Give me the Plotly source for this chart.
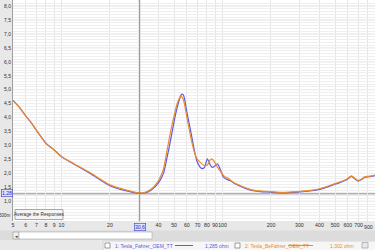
import plotly.graph_objects as go

# ---------------- data ----------------
freq_hz = [5, 5.5, 6, 6.5, 7, 8, 9, 10, 12, 15, 20, 25, 30.6, 33, 36, 39, 41, 43, 45,
           48, 50, 52, 54, 55, 56, 57, 58, 60, 62, 64.4, 67, 69, 72, 74, 77, 80.5, 83,
           86, 89, 93, 97, 101, 105, 109, 113, 117, 125, 134, 148, 162, 180, 197, 238,
           295, 350, 394, 440, 487, 540, 589, 632, 665, 696, 730, 765, 820, 885]

fahrer_ohm = [4.62, 4.36, 4.06, 3.81, 3.54, 3.08, 2.84, 2.60, 2.33, 2.01, 1.56, 1.38, 1.285, 1.30, 1.40, 1.58, 1.76, 2.00, 2.50,
              3.30, 3.85, 4.30, 4.65, 4.78, 4.84, 4.82, 4.70, 4.21, 3.80, 3.32, 2.80, 2.48, 2.25, 2.18, 2.20, 2.52, 2.36,
              2.22, 2.25, 2.34, 2.14, 1.88, 1.80, 1.76, 1.72, 1.66, 1.58, 1.50, 1.41, 1.36, 1.34, 1.33, 1.30,
              1.33, 1.37, 1.42, 1.50, 1.59, 1.68, 1.77, 1.89, 1.80, 1.72, 1.78, 1.86, 1.88, 1.92]

befahrer_ohm = [4.62, 4.36, 4.06, 3.81, 3.54, 3.08, 2.84, 2.60, 2.34, 2.03, 1.59, 1.41, 1.302, 1.32, 1.43, 1.64, 1.86, 2.15, 2.75,
                3.60, 4.05, 4.45, 4.70, 4.76, 4.74, 4.66, 4.50, 4.03, 3.60, 3.14, 2.75, 2.55, 2.42, 2.36, 2.28, 2.30, 2.45,
                2.52, 2.42, 2.22, 2.08, 1.94, 1.86, 1.82, 1.74, 1.67, 1.60, 1.52, 1.43, 1.38, 1.36, 1.35, 1.32,
                1.35, 1.39, 1.44, 1.52, 1.61, 1.70, 1.79, 1.91, 1.82, 1.74, 1.80, 1.88, 1.90, 1.94]

series_names = ["1: Tesla_Fahrer_OEM_TT", "2: Tesla_BeFahrer_OEM_TT"]
cursor_values = ["1,285 ohm", "1,302 ohm"]
cursor_freq = 30.6
cursor_ohm = 1.28

x_tick_vals = [5, 6, 7, 8, 9, 10, 20, 30, 40, 50, 60, 70, 80, 90, 100,
               200, 300, 400, 500, 600, 700, 800, 900]
x_tick_text = ["5", "6", "7", "8", "9", "10", "20", "", "40", "50", "60", "70", "80", "90", "100",
               "200", "300", "400", "500", "600", "700", "", ""]
y_label_vals = [1.0, 1.5, 2.0, 2.5, 3.0, 3.5, 4.0, 4.5, 5.0, 5.5, 6.0, 6.5, 7.0, 7.5, 8.0]
y_label_text = ["1,0", "1,5", "2,0", "2,5", "3,0", "3,5", "4,0", "4,5", "5,0",
                "5,5", "6,0", "6,5", "7,0", "7,5", "8,0"]
y_low_label = (0.5, "500m")
x_edge_label = "900"

BLUE = "#5c5ce0"
ORANGE = "#ec8a2c"

# ---------------- layout geometry ----------------
W, H = 375, 250
ML, MR, MT, MB = 13, 0, 0, 29
PW, PH = W - ML - MR, H - MT - MB


def px(xp):
    return (xp - ML) / PW


def py(yp):
    return (H - MB - yp) / PH


# fine y grid (every 0.1)
y_grid = [round(0.3 + 0.1 * i, 1) for i in range(80)]
y_tick_text = []
for v in y_grid:
    if v in y_label_vals:
        y_tick_text.append(y_label_text[y_label_vals.index(v)])
    else:
        y_tick_text.append("")

fig = go.Figure()
fig.add_trace(go.Scatter(x=freq_hz, y=fahrer_ohm, mode="lines", name=series_names[0],
                         line=dict(color=BLUE, width=1.2, shape="spline", smoothing=0.6)))
fig.add_trace(go.Scatter(x=freq_hz, y=befahrer_ohm, mode="lines", name=series_names[1],
                         line=dict(color=ORANGE, width=1.2, shape="spline", smoothing=0.6)))

shapes = []
# darker decade lines
for f in [10, 100]:
    shapes.append(dict(type="line", xref="x", yref="paper", x0=f, x1=f, y0=0, y1=1,
                       line=dict(color="#c4c4c4", width=1), layer="below"))
# darker half-ohm lines
for v in [y_low_label[0]] + y_label_vals:
    shapes.append(dict(type="line", xref="paper", yref="y", x0=0, x1=1, y0=v, y1=v,
                       line=dict(color="#dedede", width=1), layer="below"))
# cursors
shapes.append(dict(type="line", xref="x", yref="paper", x0=cursor_freq, x1=cursor_freq, y0=0, y1=1,
                   line=dict(color="#8a8a8a", width=1)))
shapes.append(dict(type="line", xref="paper", yref="y", x0=0, x1=1, y0=cursor_ohm, y1=cursor_ohm,
                   line=dict(color="#b0b0b0", width=2), layer="below"))
# "Average the Responses" button
shapes.append(dict(type="rect", xref="paper", yref="paper", x0=px(15), x1=px(63), y0=py(219.5), y1=py(209.5),
                   fillcolor="#f4f4f4", line=dict(color="#a8a8a8", width=1)))
# scrollbar
shapes.append(dict(type="rect", xref="paper", yref="paper", x0=px(0), x1=px(375), y0=py(240), y1=py(230.5),
                   fillcolor="#dcdcdc", line=dict(width=0)))
shapes.append(dict(type="rect", xref="paper", yref="paper", x0=px(13), x1=px(19), y0=py(239), y1=py(232),
                   fillcolor="#f2f2f2", line=dict(color="#909090", width=0.6)))
shapes.append(dict(type="rect", xref="paper", yref="paper", x0=px(19), x1=px(152), y0=py(239), y1=py(232),
                   fillcolor="#ffffff", line=dict(color="#a8a8a8", width=0.6)))
# legend box
shapes.append(dict(type="rect", xref="paper", yref="paper", x0=px(103), x1=px(376), y0=py(251), y1=py(241),
                   fillcolor="#f6f6f6", line=dict(color="#c0c0c0", width=0.6)))
for cx in [105, 235]:
    shapes.append(dict(type="rect", xref="paper", yref="paper", x0=px(cx), x1=px(cx + 5), y0=py(248), y1=py(243),
                       fillcolor="#ffffff", line=dict(color="#606060", width=0.6)))
shapes.append(dict(type="rect", xref="paper", yref="paper", x0=px(362), x1=px(368), y0=py(248), y1=py(242.5),
                   fillcolor="#e8e8e8", line=dict(color="#909090", width=0.6)))
shapes.append(dict(type="line", xref="paper", yref="paper", x0=px(175), x1=px(193), y0=py(245.5), y1=py(245.5),
                   line=dict(color=BLUE, width=1)))
shapes.append(dict(type="line", xref="paper", yref="paper", x0=px(288), x1=px(313), y0=py(245.5), y1=py(245.5),
                   line=dict(color=ORANGE, width=1)))

FONT = "Liberation Sans"


def label(text, xp, yp, size=5, color="#303030", xanchor="center", **kw):
    return dict(text=text, xref="paper", yref="paper", x=px(xp), y=py(yp), showarrow=False,
                xanchor=xanchor, yanchor="middle", font=dict(family=FONT, size=size, color=color), **kw)


annotations = [
    label("Average the Responses", 39, 214.5, size=4.7),
    label("30,6", 140, 227, size=5.2, color="#3030c0", bgcolor="#dde0ff",
          bordercolor="#4040c0", borderwidth=0.6, borderpad=0.3),
    label("1,28", 6.5, 193, size=5.2, color="#3030c0", bgcolor="#dde0ff",
          bordercolor="#4040c0", borderwidth=0.6, borderpad=0.3),
    label(x_edge_label, 374.5, 227, size=5.2, xanchor="right"),
    dict(text=y_low_label[1], xref="paper", yref="y", x=px(12.5), y=y_low_label[0], showarrow=False,
         xanchor="right", yanchor="middle", font=dict(family=FONT, size=4.5, color="#303030")),
    label("◂", 16, 235.5, size=5, color="#404040"),
    label(series_names[0], 113, 245.5, color=BLUE, xanchor="left"),
    label(cursor_values[0], 203, 245.5, color=BLUE, xanchor="left"),
    label(series_names[1], 243, 245.5, color=ORANGE, xanchor="left"),
    label(cursor_values[1], 328, 245.5, color=ORANGE, xanchor="left"),
]

fig.update_layout(
    width=W, height=H,
    margin=dict(l=ML, r=MR, t=MT, b=MB, pad=0),
    paper_bgcolor="#e8e8e8",
    plot_bgcolor="#ffffff",
    showlegend=False,
    separators=",.",
    shapes=shapes,
    annotations=annotations,
    xaxis=dict(type="log", range=[0.699, 2.947], tickmode="array", tickvals=x_tick_vals,
               ticktext=x_tick_text, tickangle=0, showgrid=True, gridcolor="#e4e4e4", gridwidth=1,
               zeroline=False, showline=False, ticks="", ticklen=0, automargin=False,
               tickfont=dict(family=FONT, size=5.2, color="#303030")),
    yaxis=dict(range=[0.294, 8.215], tickmode="array", tickvals=y_grid, ticktext=y_tick_text,
               showgrid=True, gridcolor="#efefef", gridwidth=1, zeroline=False, automargin=False,
               showline=True, linecolor="#a0a0a0", linewidth=1, ticks="", ticklen=0,
               ticklabelstandoff=0,
               tickfont=dict(family=FONT, size=5, color="#303030")),
)

fig.write_html("out.html")
